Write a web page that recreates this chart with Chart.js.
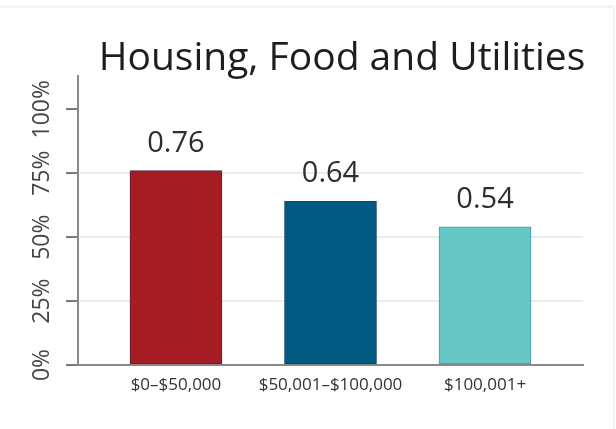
<!DOCTYPE html>
<html>
<head>
<meta charset="utf-8">
<script src="https://cdn.jsdelivr.net/npm/chart.js@4.4.0/dist/chart.umd.min.js"></script>
<style>
  html, body { margin: 0; padding: 0; background: #ffffff; }
  #wrap { position: relative; width: 616px; height: 429px; overflow: hidden; }
  #frame { position: absolute; left: -4px; top: 5px; width: 617px; height: 440px;
           border-top: 3px solid #f1f4f8; border-right: 2px solid #f1f4f8; }
  canvas { position: absolute; left: 0; top: 0; }
</style>
</head>
<body>
<div id="wrap">
  <div id="frame"></div>
  <canvas id="c" width="616" height="429"></canvas>
</div>
<script>
const chartTitle = "Housing, Food and Utilities";
const categories = ["$0\u2013$50,000", "$50,001\u2013$100,000", "$100,001+"];
const values = [0.76, 0.64, 0.54];
const yTickValues = [0, 0.25, 0.5, 0.75, 1.0];
const yTickLabels = ["0%", "25%", "50%", "75%", "100%"];
const barColors = ["#a51d23", "#005a82", "#66c7c6"];
const barBorders = ["#4a2a45", "#1f3f63", "#4b98a6"];

const FONT = "'Open Sans', sans-serif";

const drawExtras = {
  id: "drawExtras",
  afterDatasetsDraw(chart) {
    const ctx = chart.ctx;
    const meta = chart.getDatasetMeta(0);
    ctx.save();
    ctx.fillStyle = "#2e2e2e";
    ctx.font = "29px " + FONT;
    ctx.textAlign = "center";
    ctx.textBaseline = "alphabetic";
    meta.data.forEach((bar, i) => {
      ctx.fillText(values[i].toFixed(2), bar.x, bar.y - 19);
    });
    ctx.restore();
  },
  afterDraw(chart) {
    const ctx = chart.ctx;
    const ys = chart.scales.y;
    ctx.save();
    ctx.fillStyle = "#444444";
    ctx.font = "23px " + FONT;
    ctx.textAlign = "center";
    ctx.textBaseline = "middle";
    yTickValues.forEach((v, i) => {
      const py = ys.getPixelForValue(v);
      ctx.save();
      ctx.translate(42, py);
      ctx.rotate(-Math.PI / 2);
      ctx.fillText(yTickLabels[i], 0, 0);
      ctx.restore();
    });
    ctx.fillStyle = "#1e1e1e";
    ctx.font = "39px " + FONT;
    ctx.textAlign = "center";
    ctx.textBaseline = "alphabetic";
    ctx.fillText(chartTitle, 342, 70);
    ctx.restore();
  }
};

new Chart(document.getElementById("c"), {
  type: "bar",
  data: {
    datasets: [{
      data: values.map((v, i) => ({ x: i, y: v })),
      backgroundColor: barColors,
      borderColor: barBorders,
      borderWidth: 1,
      borderSkipped: false,
      barThickness: 92
    }]
  },
  options: {
    responsive: false,
    animation: false,
    devicePixelRatio: 1,
    layout: { padding: { top: 76, right: 33, bottom: 0, left: 0 } },
    plugins: {
      legend: { display: false },
      title: { display: false },
      tooltip: { enabled: false }
    },
    scales: {
      x: {
        type: "linear",
        offset: false,
        bounds: "data",
        min: -0.634,
        max: 2.634,
        afterBuildTicks(scale) {
          scale.ticks = categories.map((c, i) => ({ value: i }));
        },
        afterFit(scale) { scale.height = 64; },
        grid: { display: false, drawTicks: false, offset: false },
        border: { display: true, color: "#8a8a8a", width: 2 },
        ticks: {
          padding: 10,
          color: "#333333",
          font: { family: FONT, size: 17 },
          maxRotation: 0,
          minRotation: 0,
          callback: (v) => categories[Math.round(v)] || ""
        }
      },
      y: {
        min: 0,
        max: 1.13,
        afterBuildTicks(scale) {
          scale.ticks = yTickValues.map(v => ({ value: v }));
        },
        afterFit(scale) { scale.width = 78; },
        grid: {
          color: (ctx) => (ctx.tick && ctx.tick.value > 0 && ctx.tick.value < 0.9) ? "#e4eff2" : "rgba(0,0,0,0)",
          lineWidth: 2,
          drawTicks: true,
          tickLength: 12,
          tickColor: "#7a7a7a",
          tickWidth: 2
        },
        border: { display: true, color: "#8a8a8a", width: 2 },
        ticks: { display: true, color: "rgba(0,0,0,0)", padding: 0, font: { size: 1 } }
      }
    }
  },
  plugins: [drawExtras]
});
</script>
</body>
</html>
